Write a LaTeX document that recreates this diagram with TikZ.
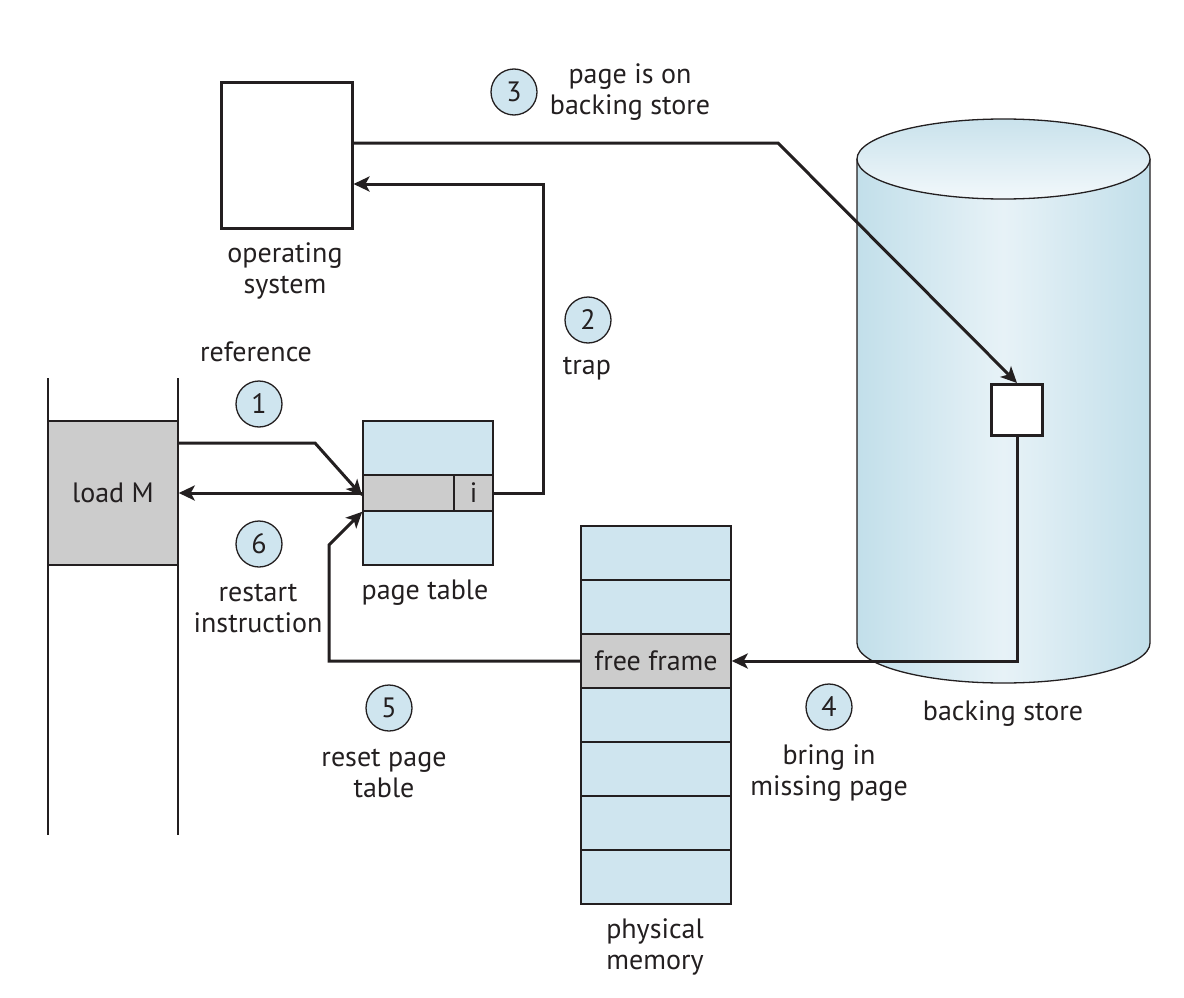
\documentclass[tikz,border=0pt]{standalone}
\usepackage{fontspec}
\setmainfont{PT Sans}
\usetikzlibrary{arrows.meta}
\definecolor{inkc}{HTML}{231F20}
\definecolor{cellblue}{HTML}{CFE5EF}
\definecolor{cellgray}{HTML}{CCCCCC}
\definecolor{cyledge}{HTML}{C2DFEA}
\definecolor{cylmid}{HTML}{E7F2F7}
\definecolor{cyltop}{HTML}{C9E2EC}
\definecolor{cylbot}{HTML}{F2F8FB}
\begin{document}
\begin{tikzpicture}[x=1pt,y=-1pt,
  font=\fontsize{28}{31}\selectfont,
  every node/.style={text=inkc},
  bluecell/.style={draw=inkc, line width=1.5pt, fill=cellblue, inner sep=0pt,
    minimum width=#1, minimum height=54pt},
  bluecell/.default=130pt,
  graycell/.style={draw=inkc, line width=1.5pt, fill=cellgray, inner sep=0pt,
    minimum height=#1},
  thickbox/.style={draw=inkc, line width=3pt, fill=white, inner sep=0pt},
  stepnum/.style={circle, draw=inkc, line width=1.3pt, fill=cellblue,
    minimum size=46pt, inner sep=0pt},
  lbl/.style={align=center, inner sep=0pt},
  flow/.style={draw=inkc, line width=3pt, line join=miter,
    -{Stealth[length=16pt, width=15pt, inset=4pt]}},
  plainline/.style={draw=inkc, line width=1.3pt}
]
\useasboundingbox (0,0) rectangle (1184,998);

% ---- program column with the faulting instruction ----
\draw[plainline] (48,378) -- (48,835);
\draw[plainline] (178,378) -- (178,835);
\node[graycell=144pt, minimum width=130pt] (loadM) at (113,493) {load M};

% ---- operating system ----
\node[thickbox, minimum width=131pt, minimum height=145pt] (os) at (286.5,155.5) {};
\node[lbl] (oslbl) at (285,271) {operating\\system};

% ---- page table ----
\node[bluecell, minimum height=54pt] (pttop) at (428,448) {};
\node[bluecell, minimum height=54pt] (ptbot) at (428,538) {};
\node[graycell=36pt, minimum width=91pt] (ptrow) at (408.5,493) {};
\node[graycell=36pt, minimum width=39pt] (pti) at (473.5,493) {i};
\node[lbl] (ptlbl) at (425,593) {page table};

% ---- backing store cylinder ----
\path[left color=cyledge, right color=cyledge, middle color=cylmid]
  (857,159) -- (857,643) arc[start angle=180, end angle=360, x radius=146.5pt, y radius=40pt]
  -- (1150,159) -- cycle;
\draw[plainline] (857,159) -- (857,643)
  arc[start angle=180, end angle=360, x radius=146.5pt, y radius=40pt] -- (1150,159);
\draw[plainline, top color=cyltop, bottom color=cylbot]
  (1003.5,159) ellipse[x radius=146.5pt, y radius=40pt];
\node[thickbox, minimum size=51pt] (sq) at (1017,410) {};
\node[lbl] (bslbl) at (1003,714) {backing store};

% ---- physical memory ----
\node[bluecell=150pt] (pm1) at (656,553) {};
\node[bluecell=150pt] (pm2) at (656,607) {};
\node[graycell=54pt, minimum width=150pt] (ff) at (656,661) {free frame};
\node[bluecell=150pt] (pm4) at (656,715) {};
\node[bluecell=150pt] (pm5) at (656,769) {};
\node[bluecell=150pt] (pm6) at (656,823) {};
\node[bluecell=150pt] (pm7) at (656,877) {};
\node[lbl] (pmlbl) at (655,947) {physical\\memory};

% ---- bends of the connectors ----
\coordinate (b1) at (315,443);
\coordinate (b2) at (543,184);
\coordinate (b3) at (778,143);
\coordinate (b5) at (329,545);

% ---- steps ----
\draw[flow] (loadM.east |- b1) -- (b1) -- ([yshift=-3pt]ptrow.west);
\draw[flow] (pti.east) -| (b2) -- (os.east |- b2);
\draw[flow] (os.east |- b3) -- (b3) -- (sq.north);
\draw[flow] (sq.south) |- (ff.east);
\draw[flow] (ff.west) -| (b5) -- (ptrow.south west);
\draw[flow] (ptrow.west) -- (loadM.east |- ptrow.west);

% ---- step numbers and captions ----
\node[stepnum] (n1) at (259,404) {1};
\node[stepnum] (n2) at (588,320) {2};
\node[stepnum] (n3) at (514,92) {3};
\node[stepnum] (n4) at (829,707) {4};
\node[stepnum] (n5) at (389,708) {5};
\node[stepnum] (n6) at (259,544) {6};
\node[lbl] (t1) at (256,352) {reference};
\node[lbl] (t2) at (587,369) {trap};
\node[lbl] (t3) at (630,92) {page is on\\backing store};
\node[lbl] (t4) at (829,773) {bring in\\missing page};
\node[lbl] (t5) at (384,773) {reset page\\table};
\node[lbl] (t6) at (258,608) {restart\\instruction};
\end{tikzpicture}
\end{document}
